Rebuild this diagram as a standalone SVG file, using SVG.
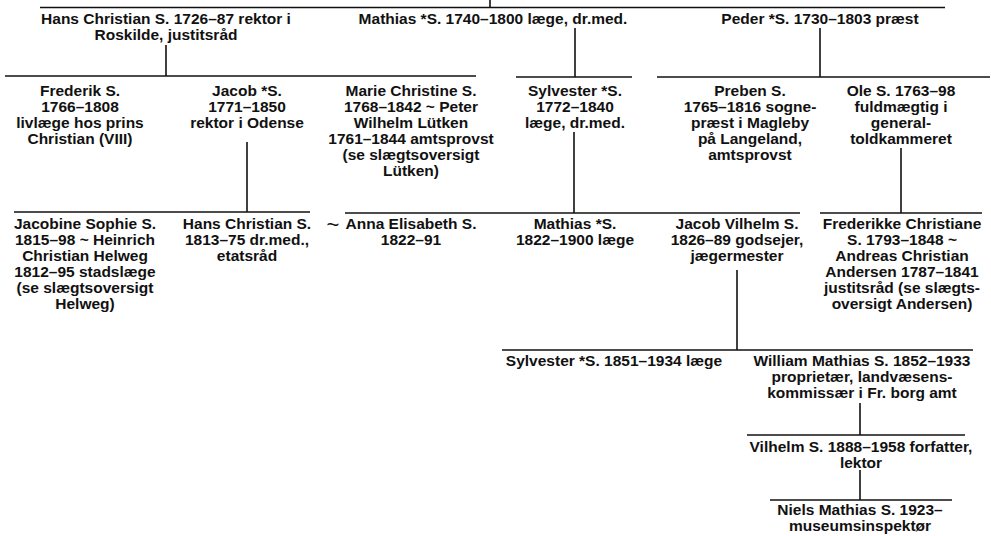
<svg xmlns="http://www.w3.org/2000/svg" width="991" height="536" viewBox="0 0 991 536">
<style>
text{font-family:"Liberation Sans",Arial,sans-serif;font-size:15.5px;font-weight:bold;fill:#111;text-anchor:middle}
.c line{stroke:#111;stroke-width:1.6}
.t{font-size:22px;font-weight:normal}
</style>
<rect width="991" height="536" fill="#fff"/>
<g class="c" id="connectors">
<line x1="490" y1="0" x2="490" y2="7.5"/>
<line x1="40" y1="7.5" x2="945" y2="7.5"/>
<line x1="166" y1="45" x2="166" y2="76"/>
<line x1="5" y1="76" x2="476" y2="76"/>
<line x1="575" y1="28" x2="575" y2="77"/>
<line x1="516" y1="77" x2="632" y2="77"/>
<line x1="820" y1="28" x2="820" y2="77"/>
<line x1="657" y1="77" x2="990" y2="77"/>
<line x1="247" y1="142" x2="247" y2="212"/>
<line x1="14" y1="212" x2="310" y2="212"/>
<line x1="574" y1="132" x2="574" y2="213"/>
<line x1="345" y1="213" x2="800" y2="213"/>
<line x1="901" y1="148" x2="901" y2="213"/>
<line x1="820" y1="213" x2="982" y2="213"/>
<line x1="737" y1="270" x2="737" y2="350"/>
<line x1="502" y1="350" x2="973" y2="350"/>
<line x1="860" y1="403" x2="860" y2="435"/>
<line x1="747" y1="435" x2="965" y2="435"/>
<line x1="860" y1="470" x2="860" y2="500"/>
<line x1="770" y1="500" x2="952" y2="500"/>
</g>
<g id="hans1726"><text x="166" y="24">Hans Christian S. 1726–87 rektor i</text><text x="166" y="40">Roskilde, justitsråd</text></g>
<g id="mathias1740"><text x="493" y="24">Mathias *S. 1740–1800 læge, dr.med.</text></g>
<g id="peder"><text x="820" y="24">Peder *S. 1730–1803 præst</text></g>
<g id="frederik"><text x="80" y="96">Frederik S.</text><text x="80" y="112">1766–1808</text><text x="80" y="128">livlæge hos prins</text><text x="80" y="144">Christian (VIII)</text></g>
<g id="jacob1771"><text x="247" y="96">Jacob *S.</text><text x="247" y="112">1771–1850</text><text x="247" y="128">rektor i Odense</text></g>
<g id="marie"><text x="411" y="96">Marie Christine S.</text><text x="411" y="112">1768–1842 ~ Peter</text><text x="411" y="128">Wilhelm Lütken</text><text x="411" y="144">1761–1844 amtsprovst</text><text x="411" y="160">(se slægtsoversigt</text><text x="411" y="176">Lütken)</text></g>
<g id="sylvester1772"><text x="575" y="96">Sylvester *S.</text><text x="575" y="112">1772–1840</text><text x="575" y="128">læge, dr.med.</text></g>
<g id="preben"><text x="750" y="96">Preben S.</text><text x="750" y="112">1765–1816 sogne-</text><text x="750" y="128">præst i Magleby</text><text x="750" y="144">på Langeland,</text><text x="750" y="160">amtsprovst</text></g>
<g id="ole"><text x="901" y="96">Ole S. 1763–98</text><text x="901" y="112">fuldmægtig i</text><text x="901" y="128">general-</text><text x="901" y="144">toldkammeret</text></g>
<g id="jacobine"><text x="85" y="229">Jacobine Sophie S.</text><text x="85" y="245">1815–98 ~ Heinrich</text><text x="85" y="261">Christian Helweg</text><text x="85" y="277">1812–95 stadslæge</text><text x="85" y="293">(se slægtsoversigt</text><text x="85" y="309">Helweg)</text></g>
<g id="hans1813"><text x="247" y="229">Hans Christian S.</text><text x="247" y="245">1813–75 dr.med.,</text><text x="247" y="261">etatsråd</text></g>
<g id="anna"><text class="t" x="333" y="232">~</text><text x="411" y="229">Anna Elisabeth S.</text><text x="411" y="245">1822–91</text></g>
<g id="mathias1822"><text x="575" y="229">Mathias *S.</text><text x="575" y="245">1822–1900 læge</text></g>
<g id="jacobvilhelm"><text x="737" y="229">Jacob Vilhelm S.</text><text x="737" y="245">1826–89 godsejer,</text><text x="737" y="261">jægermester</text></g>
<g id="frederikke"><text x="902" y="229">Frederikke Christiane</text><text x="902" y="245">S. 1793–1848 ~</text><text x="902" y="261">Andreas Christian</text><text x="902" y="277">Andersen 1787–1841</text><text x="902" y="293">justitsråd (se slægts-</text><text x="902" y="309">oversigt Andersen)</text></g>
<g id="sylvester1851"><text x="614" y="366">Sylvester *S. 1851–1934 læge</text></g>
<g id="william"><text x="862" y="366">William Mathias S. 1852–1933</text><text x="862" y="382">proprietær, landvæsens-</text><text x="862" y="398">kommissær i Fr. borg amt</text></g>
<g id="vilhelm"><text x="861" y="452">Vilhelm S. 1888–1958 forfatter,</text><text x="861" y="468">lektor</text></g>
<g id="niels"><text x="860" y="515">Niels Mathias S. 1923–</text><text x="860" y="531">museumsinspektør</text></g>
</svg>
